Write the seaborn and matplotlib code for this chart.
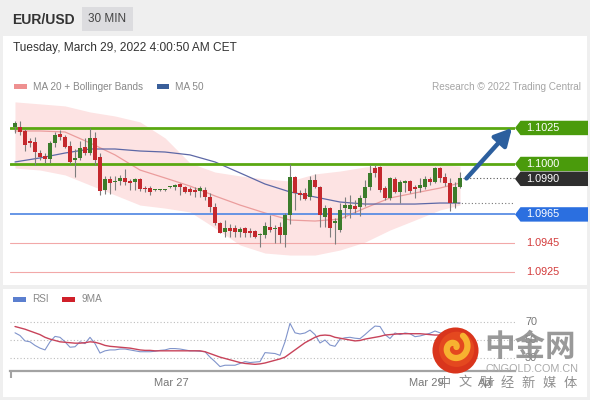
import numpy as np
import pandas as pd
import matplotlib
matplotlib.use("Agg")
import matplotlib.pyplot as plt
import seaborn as sns
from matplotlib.patches import Rectangle, Polygon, Circle

# ---------------- data ----------------
opens = [1.10257,1.10257,1.10229,1.10160,1.10153,1.10076,1.10056,1.10035,1.10146,1.10208,
         1.10188,1.10125,1.10028,1.10042,1.10118,1.10076,1.10181,1.10049,1.09819,1.09896,
         1.09875,1.09882,1.09903,1.09882,1.09875,1.09896,1.09833,1.09833,1.09819,1.09819,
         1.09819,1.09840,1.09840,1.09861,1.09840,1.09826,1.09819,1.09813,1.09819,1.09771,
         1.09701,1.09590,1.09528,1.09556,1.09556,1.09528,1.09556,1.09535,1.09535,1.09507,
         1.09507,1.09563,1.09549,1.09563,1.09507,1.09646,1.09910,1.09799,1.09799,1.09771,
         1.09889,1.09840,1.09632,1.09694,1.09590,1.09542,1.09694,1.09688,1.09708,1.09701,
         1.09764,1.09840,1.09972,1.09979,1.09833,1.09764,1.09896,1.09806,1.09868,1.09882,
         1.09840,1.09833,1.09840,1.09896,1.09875,1.09972,1.09910,1.09868,1.09729,1.09840]
highs = [1.10299,1.10299,1.10243,1.10181,1.10188,1.10097,1.10076,1.10160,1.10222,1.10236,
         1.10201,1.10160,1.10104,1.10160,1.10181,1.10250,1.10222,1.10076,1.09917,1.09917,
         1.09917,1.09924,1.09965,1.09896,1.09903,1.09903,1.09847,1.09847,1.09826,1.09826,
         1.09826,1.09847,1.09861,1.09868,1.09847,1.09840,1.09840,1.09847,1.09840,1.09799,
         1.09729,1.09597,1.09611,1.09583,1.09576,1.09563,1.09563,1.09556,1.09542,1.09521,
         1.09597,1.09646,1.09576,1.09597,1.09660,1.10000,1.09917,1.09819,1.09833,1.09917,
         1.09931,1.09847,1.09715,1.09701,1.09625,1.09729,1.09771,1.09785,1.09750,1.09785,
         1.09889,1.09993,1.09993,1.09986,1.09847,1.09910,1.09910,1.09889,1.09889,1.09889,
         1.09854,1.09903,1.09917,1.09910,1.09979,1.09979,1.09938,1.09903,1.09875,1.09944]
lows = [1.10215,1.10201,1.10090,1.10118,1.09993,1.10028,1.10007,1.10007,1.10118,1.10167,
        1.10111,1.10000,1.09910,1.10028,1.10063,1.10063,1.09993,1.09785,1.09792,1.09792,
        1.09819,1.09854,1.09854,1.09819,1.09819,1.09813,1.09806,1.09785,1.09813,1.09813,
        1.09813,1.09833,1.09819,1.09785,1.09799,1.09785,1.09771,1.09771,1.09750,1.09667,
        1.09576,1.09521,1.09493,1.09493,1.09493,1.09493,1.09493,1.09493,1.09486,1.09424,
        1.09486,1.09528,1.09451,1.09451,1.09424,1.09583,1.09681,1.09750,1.09750,1.09750,
        1.09833,1.09563,1.09563,1.09493,1.09444,1.09528,1.09625,1.09625,1.09660,1.09639,
        1.09708,1.09819,1.09910,1.09806,1.09750,1.09750,1.09799,1.09729,1.09806,1.09799,
        1.09764,1.09806,1.09826,1.09854,1.09868,1.09875,1.09847,1.09674,1.09694,1.09833]
closes = [1.10285,1.10222,1.10132,1.10146,1.10083,1.10049,1.10035,1.10146,1.10201,1.10188,
          1.10118,1.10014,1.10042,1.10111,1.10076,1.10181,1.10028,1.09813,1.09896,1.09868,
          1.09882,1.09903,1.09875,1.09868,1.09896,1.09826,1.09826,1.09806,1.09819,1.09819,
          1.09819,1.09840,1.09854,1.09840,1.09806,1.09806,1.09806,1.09833,1.09771,1.09701,
          1.09590,1.09521,1.09556,1.09535,1.09528,1.09549,1.09521,1.09521,1.09493,1.09507,
          1.09569,1.09542,1.09556,1.09507,1.09646,1.09910,1.09799,1.09785,1.09757,1.09889,
          1.09840,1.09646,1.09694,1.09556,1.09604,1.09681,1.09715,1.09715,1.09688,1.09764,
          1.09840,1.09938,1.09938,1.09819,1.09764,1.09903,1.09806,1.09875,1.09882,1.09813,
          1.09826,1.09854,1.09896,1.09875,1.09972,1.09903,1.09868,1.09729,1.09840,1.09903]

band_idx = [0,5,10,15,20,25,30,35,40,45,50,55,60,65,70,75,80,85,89]
ma20 = [1.10229,1.10229,1.10222,1.10146,1.10063,1.09958,1.09903,1.09847,1.09778,1.09715,
        1.09660,1.09611,1.09604,1.09618,1.09694,1.09764,1.09799,1.09833,1.09868]
ma50 = [1.10014,1.10042,1.10076,1.10104,1.10104,1.10090,1.10083,1.10063,1.10014,1.09938,
        1.09861,1.09806,1.09771,1.09736,1.09722,1.09722,1.09722,1.09729,1.09729]
bb_up = [1.10431,1.10417,1.10403,1.10361,1.10333,1.10292,1.10181,1.10007,1.09944,1.09917,
         1.09896,1.09882,1.09931,1.09951,1.09979,1.09993,1.09993,1.09993,1.09986]
bb_low = [1.09972,1.09958,1.09924,1.09854,1.09785,1.09715,1.09694,1.09667,1.09556,1.09438,
          1.09382,1.09368,1.09368,1.09403,1.09458,1.09542,1.09611,1.09681,1.09715]

rsi = [58,55,49,48,44,41,39,48,54,53,
       48,42,42.5,48,46,53,46,35.5,38,39,
       39,40,40,39,38,37,37,37,37.5,38.5,
       39,40.5,40.5,40,39,38,38,37.5,37,31,
       26,20.5,22,22,22,24,26,25,25.5,26,
       36,35.5,35,33,48,68.5,58,56.7,57.8,61,
       56,46.7,50,44.4,43,51,52.5,53,52,51.5,
       56,61,65.5,65,56,51.7,57.8,56,57.8,57,
       53.7,54.5,56,57.5,60,58,56,45,48,53]
rsi_ma = [65,63.5,62,60,58,56,53,51,49.5,48,
          47.5,47,46.5,46.5,47,48,47.5,46,44,43,
          42.5,42,41.5,41,40,39,38.5,38.5,38,38,
          38,38,38,38,38,38,38,38,37,35,
          33,31,29.5,28,26.5,25,24,23.5,23,23.5,
          24.5,26,27.5,29,31,35,39,43,47,50,
          53,55,55.5,55,53,52,51,50,49,49.5,
          51,52,53,54,55.5,56,56.5,57,57,57,
          57,57,56.5,56,55.5,55.5,55.5,55,54.5,54]

resistance = [1.1025, 1.1000]
support = [1.0965, 1.0945, 1.0925]
last_price = 1.0990
rsi_levels = [70, 50, 30]
time_labels = ["Mar 27", "Mar 29", "Apr"]
time_pos = [31.2, 82.2, 94.4]

# ---------------- figure ----------------
sns.set_theme(style="white")
plt.rcParams['font.family'] = ['Liberation Sans', 'DejaVu Sans']

W, H = 590, 400
fig = plt.figure(figsize=(5.9, 4), dpi=100, facecolor='#efefef')

def fx(px):
    return px / W

def fy(py):
    return 1 - py / H

def frect(x0, y0, x1, y1, **kw):
    r = Rectangle((fx(x0), fy(y1)), fx(x1) - fx(x0), fy(y0) - fy(y1),
                  transform=fig.transFigure, **kw)
    fig.patches.append(r)
    return r

# panels
frect(3, 36, 587, 285, facecolor='white', edgecolor='none', zorder=-2)
frect(3, 289, 587, 397, facecolor='white', edgecolor='none', zorder=-2)
# header
fig.text(fx(12), fy(19.5), "EUR/USD", fontsize=10, fontweight='bold', color='#333333', va='center')
frect(82, 7, 133, 31, facecolor='#dcdcdf', edgecolor='none', zorder=-1)
fig.text(fx(107.5), fy(19.5), "30 MIN", fontsize=8.5, color='#444444', ha='center', va='center')
fig.text(fx(13), fy(48.5), "Tuesday, March 29, 2022 4:00:50 AM CET", fontsize=8.6,
         color='#333333', va='center')

# legends
frect(14, 84, 27, 88.5, facecolor='#ee9090', edgecolor='none')
fig.text(fx(33), fy(86.5), "MA 20 + Bollinger Bands", fontsize=7.2, color='#888888', va='center')
frect(157, 84, 169, 88.5, facecolor='#3a5f9a', edgecolor='none')
fig.text(fx(175), fy(86.5), "MA 50", fontsize=7.2, color='#888888', va='center')
fig.text(fx(581), fy(86.5), "Research © 2022 Trading Central", fontsize=7.2, color='#a5a5a5',
         va='center', ha='right')
frect(13, 297, 26, 301.5, facecolor='#5b7fcf', edgecolor='none')
fig.text(fx(32), fy(299.5), "RSI", fontsize=7.2, color='#888888', va='center')
frect(62, 297, 75, 301.5, facecolor='#d0202a', edgecolor='none')
fig.text(fx(82), fy(299.5), "9MA", fontsize=7.2, color='#888888', va='center')

# ---------------- price panel ----------------
ax = fig.add_axes([fx(10), fy(282), fx(515) - fx(10), fy(100) - fy(282)])
ax.patch.set_alpha(0)
ax.set_xlim(-1, 100)
ax.set_ylim(1.09181, 1.10444)
ax.axis('off')

ax.fill_between(band_idx, bb_low, bb_up, color='#fde3e3', lw=0, zorder=1)
sns.lineplot(x=band_idx, y=ma20, ax=ax, color='#eb9d9d', linewidth=0.9, zorder=2)
sns.lineplot(x=band_idx, y=ma50, ax=ax, color='#5d68a6', linewidth=0.9, zorder=2)

# horizontal levels
ax.axhline(resistance[0], color='#5aa812', lw=2.0, zorder=2.5)
ax.axhline(resistance[1], color='#5aa812', lw=2.0, zorder=2.5)
ax.axhline(support[0], color='#5b8de4', lw=1.3, zorder=2.5)
ax.axhline(support[1], color='#f2a8a8', lw=0.8, zorder=2.5)
ax.axhline(support[2], color='#f2a8a8', lw=0.8, zorder=2.5)

# candles
xs = np.arange(len(opens))
o = np.array(opens); c = np.array(closes); hi = np.array(highs); lo = np.array(lows)
ax.vlines(xs, lo, hi, color='#7d7d7d', lw=0.8, zorder=3)
up = c >= o
body_bottom = np.minimum(o, c)
body_h = np.maximum(np.abs(c - o), 0.00004)
ax.bar(xs, body_h, bottom=body_bottom, width=0.62,
       color=np.where(up, '#3c7c2b', '#c4282d'), edgecolor='none', zorder=4)

# dotted guides
ax.hlines(last_price, xs[-1] + 0.6, 100, colors='#555555', linestyles=(0, (1, 2)), lw=0.8, zorder=2)
ax.hlines(ma50[-1], xs[-1] - 0.5, 100, colors='#777777', linestyles=(0, (1, 2)), lw=0.8, zorder=2)

# arrow
ax.annotate('', xy=(99.4, resistance[0]), xytext=(90.3, last_price),
            arrowprops=dict(arrowstyle='-|>,head_width=0.45,head_length=0.85',
                            color='#2c5f9e', lw=3.2, shrinkA=0, shrinkB=0,
                            mutation_scale=12), zorder=6)

# tags
def tag(y, text, color):
    h = 0.00050
    poly = Polygon([(100, y), (101.1, y + h), (114.6, y + h), (114.6, y - h), (101.1, y - h)],
                   closed=True, facecolor=color, edgecolor='none', clip_on=False, zorder=5)
    ax.add_patch(poly)
    ax.text(102.2, y, text, color='white', fontsize=7.8, va='center', ha='left',
            clip_on=False, zorder=6)

tag(resistance[0], "1.1025", '#4a9b0c')
tag(resistance[1], "1.1000", '#4a9b0c')
tag(last_price - 0.00003, "1.0990", '#2e2e2e')
tag(support[0], "1.0965", '#2b6fe0')
for lv in support[1:]:
    ax.text(102.2, lv, f"{lv:.4f}", color='#d33a3a', fontsize=7.8, va='center', ha='left',
            clip_on=False)

# ---------------- RSI panel ----------------
ax2 = fig.add_axes([fx(10), fy(371), fx(515) - fx(10), fy(312) - fy(371)])
ax2.patch.set_alpha(0)
ax2.set_xlim(-1, 100)
ax2.set_ylim(15.6, 81.1)
for lv in rsi_levels:
    ax2.axhline(lv, color='#bdbdbd', ls=(0, (1, 2)), lw=0.8, zorder=1)
    ax2.text(102, lv, str(lv), color='#777777', fontsize=7.8, va='center', ha='left', clip_on=False)
sns.lineplot(x=xs, y=rsi, ax=ax2, color='#8094cb', linewidth=0.8, zorder=2)
sns.lineplot(x=xs, y=rsi_ma, ax=ax2, color='#c8435a', linewidth=1.0, zorder=3)
for s in ['top', 'left', 'right']:
    ax2.spines[s].set_visible(False)
ax2.spines['bottom'].set_color('#a3a3a3')
ax2.spines['bottom'].set_linewidth(1.6)
ax2.set_yticks([])
ax2.set_xticks(time_pos)
ax2.set_xticklabels(time_labels)
ax2.set_xticks([-0.85], minor=True)
ax2.tick_params(axis='x', which='major', length=0, pad=5, labelsize=8, labelcolor='#777777')
ax2.tick_params(axis='x', which='minor', length=5, width=1.5, color='#a3a3a3', direction='out', bottom=True)
ax2.set_xlabel('')
ax2.set_ylabel('')
ax.set_xlabel(''); ax.set_ylabel('')

# ---------------- watermark ----------------
axl = fig.add_axes([fx(432), fy(374), fx(479) - fx(432), fy(327) - fy(374)])
axl.set_xlim(-1, 1); axl.set_ylim(-1, 1); axl.set_aspect('equal'); axl.axis('off')
axl.add_patch(Circle((0, 0), 0.98, facecolor='#d9351c', edgecolor='none'))
axl.add_patch(Circle((0.05, 0.05), 0.75, facecolor='#e4481f', edgecolor='none'))
t = np.linspace(0.3, 2.3 * np.pi, 120)
r = 0.08 + 0.085 * t
axl.plot(r * np.cos(t) * 0.9 - 0.05, r * np.sin(t) * 0.9 + 0.12, color='#f7b230', lw=4.5,
         solid_capstyle='round')
fig.text(fx(484), fy(347), "中金网", fontsize=22, color='#8e8e8e', alpha=0.9, fontweight='bold',
         family=['Noto Sans CJK SC', 'DejaVu Sans'], va='center', ha='left', zorder=10)
fig.text(fx(485), fy(369), "CNGOLD.COM.CN", fontsize=7.8, color='#aaaaaa', va='center',
         ha='left', zorder=10)
for k, ch in enumerate("中文财经新媒体"):
    fig.text(fx(444 + k * 21), fy(383), ch, fontsize=9.5, color='#8e8e8e', va='center',
             ha='center', family=['Noto Sans CJK SC', 'DejaVu Sans'], zorder=10)

fig.savefig("out.png", dpi=100, facecolor=fig.get_facecolor())
